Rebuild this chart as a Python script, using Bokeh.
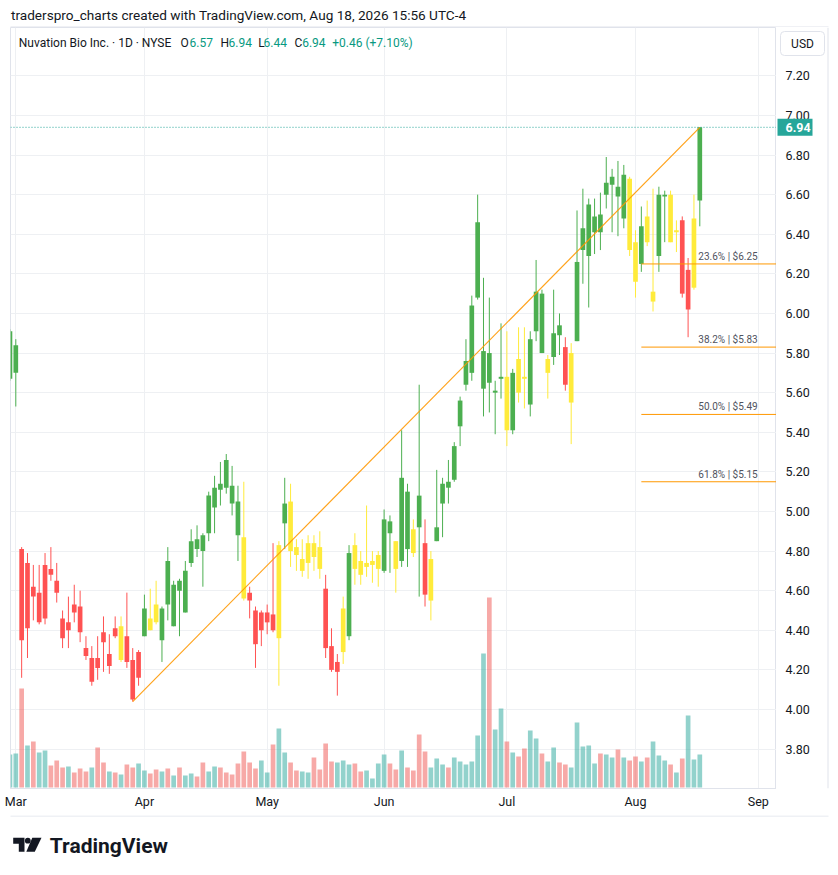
import numpy as np
import pandas as pd
from bokeh.plotting import figure
from bokeh.models import Range1d, FixedTicker, Label, Span, ColumnDataSource
from bokeh.layouts import column, row
from bokeh.embed import file_html
from bokeh.resources import INLINE
from bokeh.core.properties import value

# ---------------- data ----------------
first_session = "2026-02-27"
market_holidays = ["2026-04-03", "2026-05-25", "2026-06-19", "2026-07-03", "2026-09-07"]

opens = [5.67, 5.70, 4.81, 4.41, 4.62, 4.44, 4.46, 4.71, 4.65, 4.46,
         4.40, 4.53, 4.52, 4.31, 4.14, 4.26, 4.39, 4.22, 4.41, 4.25,
         4.37, 4.25, 4.16, 4.37, 4.46, 4.53, 4.35, 4.75, 4.42, 4.65,
         4.49, 4.74, 4.86, 4.88, 4.89, 5.02, 5.14, 5.26, 5.13, 5.05,
         4.87, 4.59, 4.50, 4.40, 4.44, 4.48, 4.36, 4.94, 5.05, 4.82,
         4.70, 4.74, 4.84, 4.82, 4.61, 4.32, 4.19, 4.29, 4.37, 4.83,
         4.75, 4.72, 4.73, 4.71, 4.70, 4.95, 4.85, 4.75, 5.10, 4.91,
         5.08, 4.84, 4.55, 4.85, 5.04, 5.15, 5.16, 5.43, 5.64, 5.70,
         6.08, 5.62, 5.80, 5.60, 5.67, 5.68, 5.41, 5.77, 5.68, 5.54,
         5.91, 6.10, 5.70, 5.78, 5.94, 5.83, 5.55, 5.86, 6.32, 6.29,
         6.41, 6.50, 6.60, 6.65, 6.64, 6.48, 6.68, 6.36, 6.25, 6.49,
         6.06, 6.29, 6.59, 6.60, 6.41, 6.47, 6.02, 6.13, 6.57]
highs = [5.92, 5.87, 4.82, 4.79, 4.73, 4.73, 4.79, 4.82, 4.74, 4.50,
         4.57, 4.63, 4.60, 4.37, 4.32, 4.37, 4.47, 4.38, 4.47, 4.47,
         4.59, 4.31, 4.30, 4.58, 4.61, 4.65, 4.52, 4.82, 4.65, 4.66,
         4.75, 4.91, 4.93, 4.89, 5.10, 5.18, 5.25, 5.29, 5.23, 5.13,
         5.15, 4.62, 4.52, 4.50, 4.53, 4.84, 4.85, 5.17, 5.14, 4.86,
         4.86, 4.88, 4.88, 4.90, 4.68, 4.41, 4.28, 4.57, 4.83, 4.89,
         4.80, 5.03, 4.80, 4.80, 5.01, 4.98, 4.85, 5.41, 5.14, 4.96,
         5.64, 4.96, 4.80, 5.21, 5.17, 5.26, 5.35, 5.58, 5.87, 6.09,
         6.60, 6.18, 6.08, 5.66, 5.95, 5.91, 5.72, 5.93, 5.93, 5.91,
         6.27, 6.12, 5.79, 6.12, 6.00, 5.88, 5.85, 6.52, 6.63, 6.58,
         6.58, 6.61, 6.79, 6.73, 6.77, 6.75, 6.69, 6.42, 6.54, 6.57,
         6.63, 6.64, 6.62, 6.62, 6.47, 6.49, 6.28, 6.60, 6.94]
lows = [5.66, 5.53, 4.16, 4.26, 4.45, 4.43, 4.43, 4.65, 4.54, 4.31,
        4.31, 4.44, 4.34, 4.25, 4.12, 4.15, 4.19, 4.18, 4.36, 4.24,
        4.21, 4.04, 4.12, 4.37, 4.40, 4.43, 4.24, 4.45, 4.42, 4.37,
        4.49, 4.72, 4.77, 4.62, 4.85, 4.89, 5.03, 5.09, 4.98, 4.75,
        4.55, 4.46, 4.21, 4.32, 4.38, 4.39, 4.12, 4.81, 4.72, 4.70,
        4.67, 4.66, 4.70, 4.66, 4.26, 4.19, 4.07, 4.23, 4.35, 4.63,
        4.63, 4.67, 4.64, 4.62, 4.69, 4.69, 4.59, 4.72, 4.72, 4.77,
        4.57, 4.52, 4.45, 4.85, 4.87, 5.04, 5.15, 5.33, 5.61, 5.66,
        6.07, 5.48, 5.50, 5.39, 5.57, 5.33, 5.39, 5.55, 5.52, 5.48,
        5.86, 5.80, 5.57, 5.74, 5.79, 5.61, 5.34, 5.86, 6.15, 6.03,
        6.30, 6.32, 6.53, 6.41, 6.39, 6.43, 6.29, 6.08, 6.21, 6.34,
        6.01, 6.21, 6.36, 6.36, 6.31, 6.08, 5.88, 6.12, 6.44]
closes = [5.91, 5.84, 4.35, 4.74, 4.57, 4.59, 4.73, 4.68, 4.59, 4.36,
          4.44, 4.49, 4.39, 4.27, 4.26, 4.21, 4.34, 4.28, 4.37, 4.42,
          4.24, 4.05, 4.29, 4.51, 4.40, 4.44, 4.51, 4.53, 4.63, 4.60,
          4.70, 4.85, 4.81, 4.80, 5.08, 5.12, 5.11, 5.12, 5.04, 4.88,
          4.56, 4.55, 4.33, 4.49, 4.49, 4.40, 4.83, 5.04, 4.80, 4.78,
          4.76, 4.84, 4.77, 4.71, 4.31, 4.20, 4.24, 4.51, 4.79, 4.71,
          4.68, 4.74, 4.75, 4.78, 4.96, 4.89, 4.71, 5.17, 4.81, 4.79,
          4.92, 4.58, 4.76, 4.92, 5.14, 5.12, 5.33, 5.56, 5.76, 6.04,
          6.46, 5.81, 5.65, 5.61, 5.68, 5.41, 5.70, 5.60, 5.67, 5.87,
          6.11, 5.80, 5.77, 5.90, 5.89, 5.64, 5.80, 6.26, 6.43, 6.55,
          6.49, 6.41, 6.66, 6.69, 6.59, 6.70, 6.32, 6.16, 6.44, 6.36,
          6.11, 6.60, 6.60, 6.36, 6.42, 6.10, 6.22, 6.48, 6.94]
volumes_m = [3.3, 3.4, 9.9, 4.2, 4.6, 3.5, 3.7, 2.2, 2.7, 2.0,
             2.1, 1.5, 1.9, 1.6, 2.0, 4.0, 2.5, 1.6, 1.5, 1.3,
             2.3, 2.0, 2.4, 1.7, 1.4, 1.8, 1.6, 1.9, 1.2, 2.0,
             1.2, 1.4, 1.1, 2.5, 1.6, 2.1, 2.0, 1.5, 1.3, 2.4,
             3.6, 2.5, 1.9, 2.7, 1.5, 4.3, 5.9, 3.5, 2.5, 1.7,
             1.6, 1.5, 3.0, 1.8, 4.4, 2.6, 2.5, 2.7, 2.3, 2.4,
             1.6, 1.7, 0.9, 2.4, 3.3, 2.4, 1.8, 3.7, 2.0, 1.7,
             5.3, 3.6, 2.0, 2.9, 2.3, 2.0, 3.0, 2.6, 2.3, 2.6,
             5.2, 13.4, 19.0, 5.8, 7.9, 4.6, 3.5, 3.1, 3.9, 5.7,
             4.9, 3.4, 2.6, 4.0, 2.5, 2.3, 2.0, 6.5, 4.1, 4.2,
             2.4, 3.4, 3.3, 3.0, 3.8, 3.0, 2.7, 3.1, 2.6, 3.0,
             4.6, 3.2, 2.7, 2.3, 1.5, 2.9, 7.2, 2.8, 3.3]
# bar colouring state of the candle indicator: g = green, r = red, y = yellow
bar_state = ("gg"
             "rrrrrrrrrrrrrrrrr"
             "yrrrgyy"
             "gggggggggggggg"
             "yrrrrryg"
             "yyyyyyrrrygyyyyy"
             "ggyggygry"
             "gggggggggggg"
             "ygyygggyggry"
             "ggggggggg"
             "yygyyggyyrryg")
fib_ratios = [0.236, 0.382, 0.5, 0.618]
fib_prices = [6.25, 5.83, 5.49, 5.15]
fib_start_bar = 108
price_ticks = [3.8, 4.0, 4.2, 4.4, 4.6, 4.8, 5.0, 5.2, 5.4, 5.6, 5.8,
               6.0, 6.2, 6.4, 6.6, 6.8, 7.0, 7.2]

symbol_text = "Nuvation Bio Inc. \u00b7 1D \u00b7 NYSE"
header_text = "traderspro_charts created with TradingView.com, Aug 18, 2026 15:56 UTC-4"
currency = "USD"

# ---------------- derived ----------------
n = len(closes)
sessions = pd.bdate_range(first_session, "2026-09-30")
sessions = sessions[~sessions.isin(pd.to_datetime(market_holidays))]
xs = np.arange(n)
months = sessions.to_period("M")
tick_pos, tick_lab = [], []
for k in range(1, len(sessions)):
    if months[k] != months[k - 1]:
        tick_pos.append(k)
        tick_lab.append(sessions[k].strftime("%b"))

GREEN, RED, YELLOW = "#4caf50", "#ff5252", "#ffeb3b"
state_color = {"g": GREEN, "r": RED, "y": YELLOW}
o = np.array(opens); c = np.array(closes); h = np.array(highs); l = np.array(lows)
up = c >= o
src = ColumnDataSource(dict(
    x=xs, o=o, c=c, h=h, l=l,
    top=np.maximum(o, c), bot=np.minimum(o, c),
    col=[state_color[s] for s in bar_state],
    vol=volumes_m,
    vcol=["#26a69a" if u else "#ef5350" for u in up],
))

FONT = "Roboto"
TXT = "#131722"
TEAL = "#089981"
BORDER = "#e0e3eb"
GRID = "#eef0f3"

# ---------------- header strip ----------------
hdr = figure(width=838, height=27, x_range=Range1d(0, 838), y_range=Range1d(27, 0),
             x_axis_location=None, y_axis_location=None, toolbar_location=None,
             output_backend="svg", min_border_left=0, min_border_right=0,
             min_border_top=0, min_border_bottom=0)
hdr.grid.visible = False
hdr.outline_line_color = None
hdr.text(x=[10.5], y=[14.5], text=[header_text], text_baseline="middle",
         text_font=value(FONT), text_font_size="13.6px", text_color=TXT)
hdr.line([10, 828], [26.5, 26.5], line_color=BORDER, line_width=1)

# ---------------- main chart ----------------
y_rng = Range1d(3.601, 7.444)
p = figure(width=776, height=788, x_range=Range1d(0.093, 131.12), y_range=y_rng,
           y_axis_location=None, toolbar_location=None, output_backend="svg",
           min_border_left=10, min_border_right=0, min_border_top=0, min_border_bottom=27)
p.extra_y_ranges = {"vol": Range1d(-0.1, 76.0)}
p.background_fill_color = "white"
p.border_fill_color = "white"
p.outline_line_color = BORDER

xt = FixedTicker(ticks=tick_pos)
p.xaxis.ticker = xt
p.xgrid.ticker = xt
p.xaxis.major_label_overrides = {t: lab for t, lab in zip(tick_pos, tick_lab)}
p.ygrid.ticker = FixedTicker(ticks=price_ticks)
ax = p.xaxis[0]
ax.axis_line_color = BORDER
ax.major_tick_line_color = None
ax.minor_tick_line_color = None
ax.major_tick_in = 0
ax.major_tick_out = 0
ax.major_label_text_font = FONT
ax.major_label_text_font_size = "12.5px"
ax.major_label_text_color = TXT
ax.major_label_standoff = 5
p.xgrid.grid_line_color = GRID
p.ygrid.grid_line_color = GRID

# volume
p.vbar(x="x", top="vol", bottom=0, width=0.8, source=src, y_range_name="vol",
       fill_color="vcol", fill_alpha=0.5, line_color=None)

# candles
p.segment(x0="x", y0="l", x1="x", y1="h", source=src, line_color="col", line_width=1)
p.vbar(x="x", top="top", bottom="bot", width=0.8, source=src, fill_color="col", line_color=None)

# trend line from the lowest low to the last high
i0 = int(np.argmin(l))
p.line([xs[i0], xs[-1]], [l[i0], h[-1]], line_color="#ff9800", line_width=1.2, line_alpha=0.9)

# fib levels
x_end = p.x_range.end
for r, fp in zip(fib_ratios, fib_prices):
    p.line([fib_start_bar, x_end], [fp, fp], line_color="#ff9800", line_width=1)
p.text(x=[127.9] * 4, y=fib_prices,
       text=[f"{r * 100:.1f}% | ${fp:.2f}" for r, fp in zip(fib_ratios, fib_prices)],
       text_align="right", text_baseline="bottom", y_offset=-2,
       text_font=value(FONT), text_font_size="10px", text_color="#50535e")

# last price line
p.add_layout(Span(location=closes[-1], dimension="width", line_color="#26a69a",
                  line_dash="1 2", line_width=1))

# symbol / OHLC legend (screen units relative to the plot frame)
chg = closes[-1] - closes[-2]
pct = chg / closes[-2] * 100
segs = [(8.3, symbol_text, TXT), (170, "O", TXT), (179, f"{opens[-1]:.2f}", TEAL),
        (210, "H", TXT), (218, f"{highs[-1]:.2f}", TEAL),
        (247.7, "L", TXT), (253, f"{lows[-1]:.2f}", TEAL),
        (284, "C", TXT), (291.7, f"{closes[-1]:.2f}", TEAL),
        (321.7, f"{chg:+.2f} ({pct:+.2f}%)", TEAL)]
for sx, t, col in segs:
    p.add_layout(Label(x=sx, x_units="screen", y=746, y_units="screen", text=t,
                       text_baseline="middle", text_font=FONT, text_font_size="12px",
                       text_color=col))

# ---------------- price scale (shares the price range) ----------------
side = figure(width=62, height=788, x_range=Range1d(776, 838), y_range=y_rng,
              x_axis_location=None, y_axis_location=None, toolbar_location=None,
              output_backend="svg", min_border_left=0, min_border_right=0,
              min_border_top=0, min_border_bottom=27)
side.grid.visible = False
side.outline_line_color = None
side.background_fill_color = "white"
side.text(x=[785] * len(price_ticks), y=price_ticks, text=[f"{t:.2f}" for t in price_ticks],
          text_baseline="middle", text_font=value(FONT), text_font_size="12.5px",
          text_color=TXT)
# last price tag
side.rect(x=[794.5], y=[closes[-1]], width=35, height=17, height_units="screen",
          fill_color="#26a69a", line_color=None)
side.text(x=[785], y=[closes[-1]], text=[f"{closes[-1]:.2f}"], text_baseline="middle",
          text_font=value(FONT), text_font_size="12.5px", text_font_style="bold",
          text_color="white")
# currency box near the top of the scale
px_per_unit = 761 / (y_rng.end - y_rng.start)
usd_y = y_rng.end - 16 / px_per_unit
try:
    side.rect(x=[802], y=[usd_y], width=44, height=24, height_units="screen",
              fill_color="white", line_color=BORDER, line_width=1, border_radius=4)
except Exception:
    side.rect(x=[802], y=[usd_y], width=44, height=24, height_units="screen",
              fill_color="white", line_color=BORDER, line_width=1)
side.text(x=[802], y=[usd_y], text=[currency], text_align="center", text_baseline="middle",
          text_font=value(FONT), text_font_size="12px", text_color=TXT)
side.line([827.5, 827.5], [y_rng.start, y_rng.end], line_color=BORDER, line_width=1)

# ---------------- footer ----------------
f = figure(width=838, height=58, x_range=Range1d(0, 838), y_range=Range1d(873, 815),
           x_axis_location=None, y_axis_location=None, toolbar_location=None,
           output_backend="svg", min_border_left=0, min_border_right=0,
           min_border_top=0, min_border_bottom=0)
f.grid.visible = False
f.outline_line_color = None
f.line([10, 828], [815.5, 815.5], line_color=BORDER, line_width=1)
f.patch([12.7, 24, 24, 18.3, 18.3, 12.7], [837.3, 837.3, 851.3, 851.3, 843.3, 843.3],
        fill_color=TXT, line_color=None)
f.circle(x=[27.3], y=[840.2], radius=2.9, fill_color=TXT, line_color=None)
f.patch([31.8, 41, 34.3, 25.8], [837.3, 837.3, 851.3, 851.3], fill_color=TXT, line_color=None)
f.text(x=[49.3], y=[845], text=["TradingView"], text_baseline="middle",
       text_font=value(FONT), text_font_size="21px", text_font_style="bold", text_color=TXT)

layout = column(hdr, row(p, side, spacing=0), f, spacing=0)
open("out.html", "w").write(file_html(layout, INLINE))
